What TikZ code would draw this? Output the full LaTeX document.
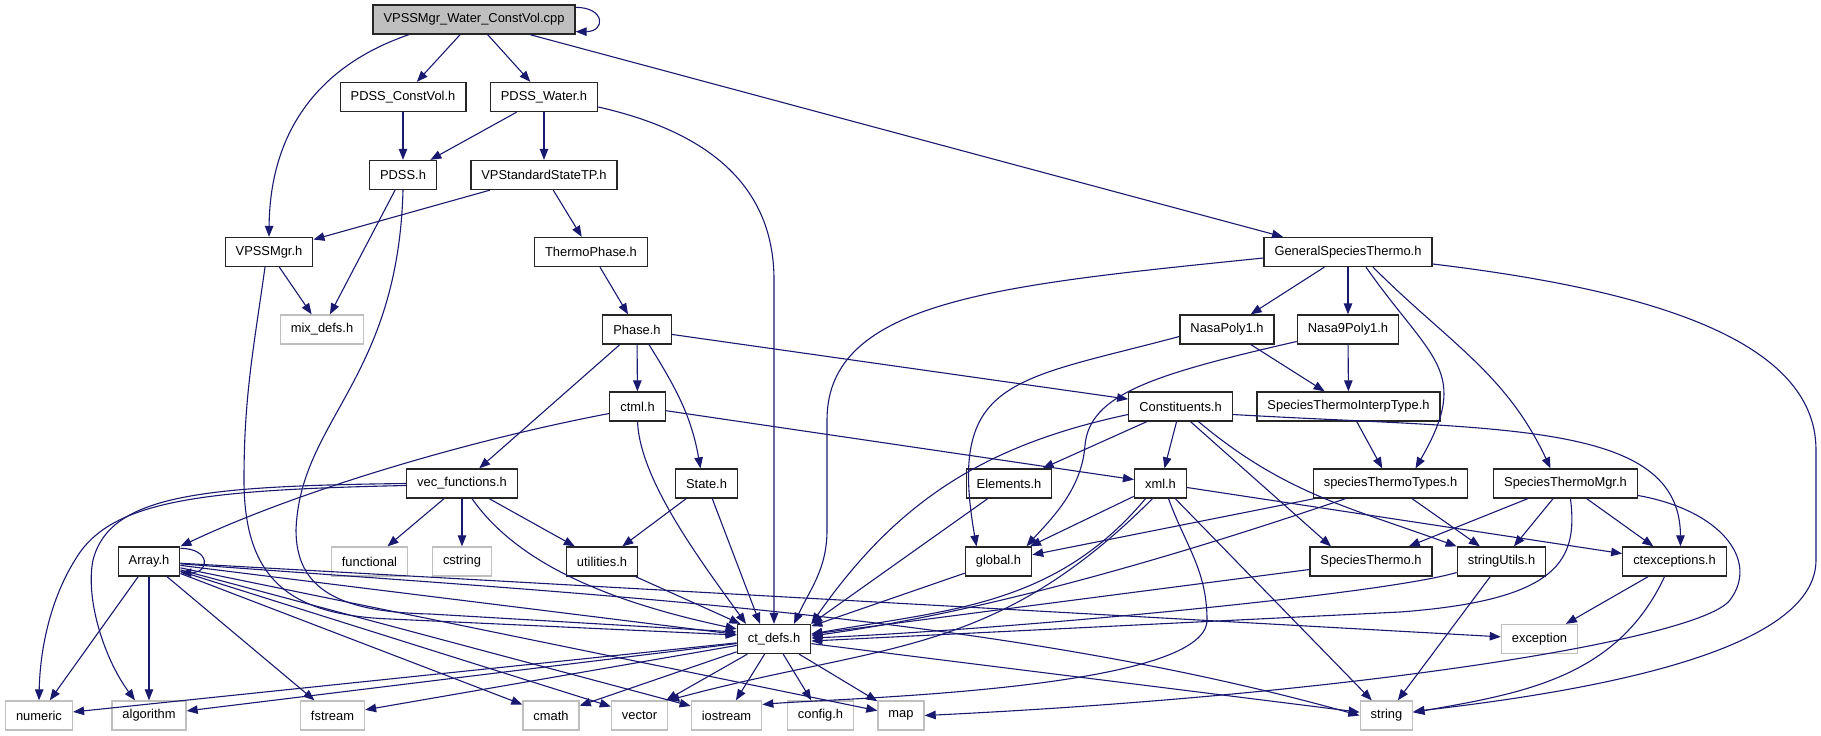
\documentclass[tikz,border=0pt]{standalone}
\usepackage{fontspec}
\setmainfont{Liberation Sans}
\usetikzlibrary{arrows.meta}
\definecolor{depblue}{RGB}{25,25,112}
\definecolor{grey75}{RGB}{191,191,191}
\newcommand{\fsz}{\fontsize{12.9}{14}\selectfont}
\begin{document}
\begin{tikzpicture}[x=1pt, y=1pt,
  file/.style={draw=black!85, line width=1.3pt, minimum height=29pt, inner xsep=10.5pt, inner ysep=0pt, font=\fsz},
  sysfile/.style={file, draw=grey75},
  mainfile/.style={file, fill=grey75},
  dep/.style={draw=depblue, line width=1.1pt, -{Triangle[length=11pt,width=8.5pt]}}]
  \useasboundingbox (0,0) rectangle (1821,-736);

  % files
  \node [mainfile] (cpp) at (474,-19.5) {VPSSMgr\_Water\_ConstVol.cpp};
  \node [file] (constvol) at (403,-97) {PDSS\_ConstVol.h};
  \node [file] (water) at (544,-97) {PDSS\_Water.h};
  \node [file] (pdss) at (403,-175) {PDSS.h};
  \node [file] (vpsstp) at (544,-175) {VPStandardStateTP.h};
  \node [file] (vpssmgr) at (269,-252) {VPSSMgr.h};
  \node [file] (thermophase) at (591,-252) {ThermoPhase.h};
  \node [file] (gst) at (1348,-252) {GeneralSpeciesThermo.h};
  \node [sysfile] (mixdefs) at (322,-329.5) {mix\_defs.h};
  \node [file] (phase) at (637,-329.5) {Phase.h};
  \node [file] (nasa) at (1227,-329.5) {NasaPoly1.h};
  \node [file] (nasa9) at (1348,-329.5) {Nasa9Poly1.h};
  \node [file] (ctml) at (637.5,-406.5) {ctml.h};
  \node [file] (constituents) at (1180.5,-406.5) {Constituents.h};
  \node [file] (interp) at (1348.5,-406.5) {SpeciesThermoInterpType.h};
  \node [file] (vecfun) at (462,-483.5) {vec\_functions.h};
  \node [file] (state) at (706.5,-483.5) {State.h};
  \node [file] (elements) at (1009,-483.5) {Elements.h};
  \node [file] (xml) at (1160.5,-483.5) {xml.h};
  \node [file] (sttypes) at (1390.5,-483.5) {speciesThermoTypes.h};
  \node [file] (stmgr) at (1565.5,-483.5) {SpeciesThermoMgr.h};
  \node [file] (array) at (149,-561.5) {Array.h};
  \node [sysfile] (functional) at (369.5,-561.5) {functional};
  \node [sysfile] (cstring) at (462,-561.5) {cstring};
  \node [file] (utilities) at (602,-561.5) {utilities.h};
  \node [file] (global) at (998.5,-561.5) {global.h};
  \node [file] (spthermo) at (1371,-561.5) {SpeciesThermo.h};
  \node [file] (strutils) at (1501.5,-561.5) {stringUtils.h};
  \node [file] (ctexc) at (1674.5,-561.5) {ctexceptions.h};
  \node [file] (ctdefs) at (774,-639) {ct\_defs.h};
  \node [sysfile] (exception) at (1539.5,-639) {exception};
  \foreach \n/\x/\t in {numeric/39/numeric, algorithm/149/algorithm, fstream/332.5/fstream,
    cmath/551/cmath, vector/639.5/vector, iostream/726.5/iostream, config/820.5/config.h,
    map/901/map, string/1386.5/string}
  \node [sysfile] (\n) at (\x,-715.5) {\t};

  % includes of the top file
  \draw [dep] ([yshift=-3pt]cpp.north east) .. controls +(30,0) and +(30,0) .. ([yshift=3pt]cpp.south east);
  \draw [dep] ([xshift=-65pt]cpp.south) .. controls (320,-65) and (270,-130) .. (vpssmgr.north);
  \draw [dep] (cpp) -- (constvol);
  \draw [dep] (cpp) -- (water);
  \draw [dep] ([xshift=56pt]cpp.south) -- ([xshift=-65pt]gst.north);

  \draw [dep] (constvol) -- (pdss);
  \draw [dep] (water) -- (pdss);
  \draw [dep] (water) -- (vpsstp);
  \draw [dep] ([yshift=-10pt]water.east) .. controls (700,-130) and (774,-180) .. (774,-280) -- (ctdefs.north);
  \draw [dep] (pdss) -- (mixdefs);
  \draw [dep] (pdss.south) .. controls (398,-380) and (300,-420) .. (296,-530)
    .. controls (296,-590) and (340,-612) .. (430,-614) -- ([yshift=7pt]ctdefs.west);
  \draw [dep] (vpsstp) -- (vpssmgr);
  \draw [dep] (vpsstp) -- (thermophase);
  \draw [dep] (vpssmgr) -- (mixdefs);
  \draw [dep] ([xshift=-4pt]vpssmgr.south) to [out=-98, in=90] (244,-480)
    .. controls (244,-580) and (290,-615) .. (390,-619) -- ([yshift=4pt]ctdefs.west);
  \draw [dep] (thermophase) -- (phase);

  \draw [dep] (phase) -- (ctml);
  \draw [dep] (phase) -- (vecfun);
  \draw [dep] ([xshift=12pt]phase.south) to [out=-58, in=100] ([xshift=-6pt]state.north);
  \draw [dep] (phase) -- (constituents);
  \draw [dep] ([yshift=-7pt]ctml.west) .. controls (470,-440) and (300,-490) .. (array.north east);
  \draw [dep] (ctml.south) .. controls (640,-480) and (700,-560) .. ([xshift=-28pt]ctdefs.north);
  \draw [dep] (ctml) -- (xml);
  \draw [dep] (state) -- (utilities);
  \draw [dep] (state) -- ([xshift=-14pt]ctdefs.north);

  \foreach \t in {functional,cstring,utilities}
  \draw [dep] (vecfun) -- (\t);
  \draw [dep] ([xshift=10pt]vecfun.south) .. controls (515,-560) and (600,-600) .. ([yshift=10pt]ctdefs.west);
  \draw [dep] ([yshift=-2pt]vecfun.west) .. controls (200,-490) and (110,-500) .. (75,-560)
    .. controls (50,-600) and (40,-650) .. (numeric.north);
  \draw [dep] (vecfun.west) .. controls (200,-486) and (110,-495) .. (93,-560)
    .. controls (85,-600) and (105,-660) .. ([xshift=-14pt]algorithm.north);
  \draw [dep] (utilities) -- (ctdefs);

  % Array.h and ct_defs.h
  \draw [dep] ([yshift=-2pt]array.north east) .. controls +(30,0) and +(30,0) .. ([yshift=4pt]array.south east);
  \foreach \t in {numeric,algorithm,fstream,cmath,vector,iostream,map,ctdefs,exception}
  \draw [dep] (array) -- (\t);
  \draw [dep] (array) .. controls (600,-595) and (1000,-615) .. (string.west);
  \foreach \t in {numeric,algorithm,fstream,cmath,vector,iostream,config,map,string}
  \draw [dep] (ctdefs) -- (\t);

  % species thermo side
  \draw [dep] ([yshift=-6pt]gst.west) .. controls (1000,-285) and (827,-300) .. (827,-420) -- (827,-530)
    to [out=-90, in=65] ([xshift=20pt]ctdefs.north);
  \draw [dep] (gst) -- (nasa);
  \draw [dep] (gst) -- (nasa9);
  \draw [dep] ([xshift=18pt]gst.south) to [out=-55, in=60, looseness=1.4] ([xshift=25pt]sttypes.north);
  \draw [dep] ([xshift=25pt]gst.south) to [out=-45, in=115] ([xshift=-15pt]stmgr.north);
  \draw [dep] ([yshift=-12pt]gst.east) .. controls (1650,-290) and (1816,-340) .. (1816,-450) -- (1816,-560)
    .. controls (1816,-650) and (1600,-690) .. ([yshift=4pt]string.east);

  \draw [dep] ([yshift=-7pt]nasa.west) to [out=195, in=100, looseness=1.5] ([xshift=-22pt]global.north);
  \draw [dep] (nasa) -- (interp);
  \draw [dep] ([yshift=-12pt]nasa9.west) .. controls (1150,-375) and (1090,-395) .. (1085,-445)
    .. controls (1082,-490) and (1050,-520) .. ([xshift=28pt]global.north);
  \draw [dep] (nasa9) -- (interp);
  \draw [dep] (interp) -- (sttypes);

  \draw [dep] (constituents) -- (elements);
  \draw [dep] (constituents) -- (xml);
  \draw [dep] ([yshift=-8pt]constituents.west) to [out=192, in=55] (ctdefs.north east);
  \draw [dep] ([xshift=10pt]constituents.south) -- ([xshift=-40pt]spthermo.north);
  \draw [dep] ([xshift=18pt]constituents.south) to [out=-40, in=160] (strutils.north west);
  \draw [dep] ([yshift=-8pt]constituents.east) .. controls (1500,-430) and (1680,-420) .. ([xshift=6pt]ctexc.north);

  \draw [dep] (xml) -- (global);
  \draw [dep] ([xshift=-15pt]xml.south) to [out=-130, in=10] ([yshift=5pt]ctdefs.east);
  \draw [dep] ([xshift=-8pt]xml.south) to [out=-135, in=15, looseness=1.1] (vector.north east);
  \draw [dep] ([xshift=8pt]xml.south) to [out=-70, in=90] (1207,-620)
    to [out=-90, in=5, looseness=.4] ([yshift=11pt]iostream.east);
  \draw [dep] (xml) -- (string);
  \draw [dep] (xml) -- (ctexc);

  \draw [dep] (elements) -- (ctdefs.north east);
  \draw [dep] (global) -- (ctdefs);
  \draw [dep] (sttypes) -- (global);
  \draw [dep] ([xshift=-45pt]sttypes.south) .. controls (1200,-548) and (1000,-610) .. ([yshift=3pt]ctdefs.east);
  \draw [dep] (sttypes) -- (strutils);
  \draw [dep] (stmgr) -- (spthermo);
  \draw [dep] (stmgr) -- (strutils);
  \draw [dep] (stmgr) -- (ctexc);
  \draw [dep] ([xshift=5pt]stmgr.south) .. controls (1578,-560) and (1560,-600) .. (1400,-612) -- ([yshift=-2pt]ctdefs.east);
  \draw [dep] ([yshift=-12pt]stmgr.east) .. controls (1720,-510) and (1760,-560) .. (1730,-600)
    .. controls (1700,-640) and (1350,-695) .. (map.east);
  \draw [dep] (spthermo) -- (ctdefs);
  \draw [dep] ([yshift=-11pt]strutils.west) .. controls (1380,-595) and (1000,-630) .. ([yshift=1pt]ctdefs.east);
  \draw [dep] (strutils) -- (string);
  \draw [dep] (ctexc) -- (exception);
  \draw [dep] ([xshift=-10pt]ctexc.south) to [out=-115, in=10] ([yshift=3pt]string.east);

\end{tikzpicture}
\end{document}
